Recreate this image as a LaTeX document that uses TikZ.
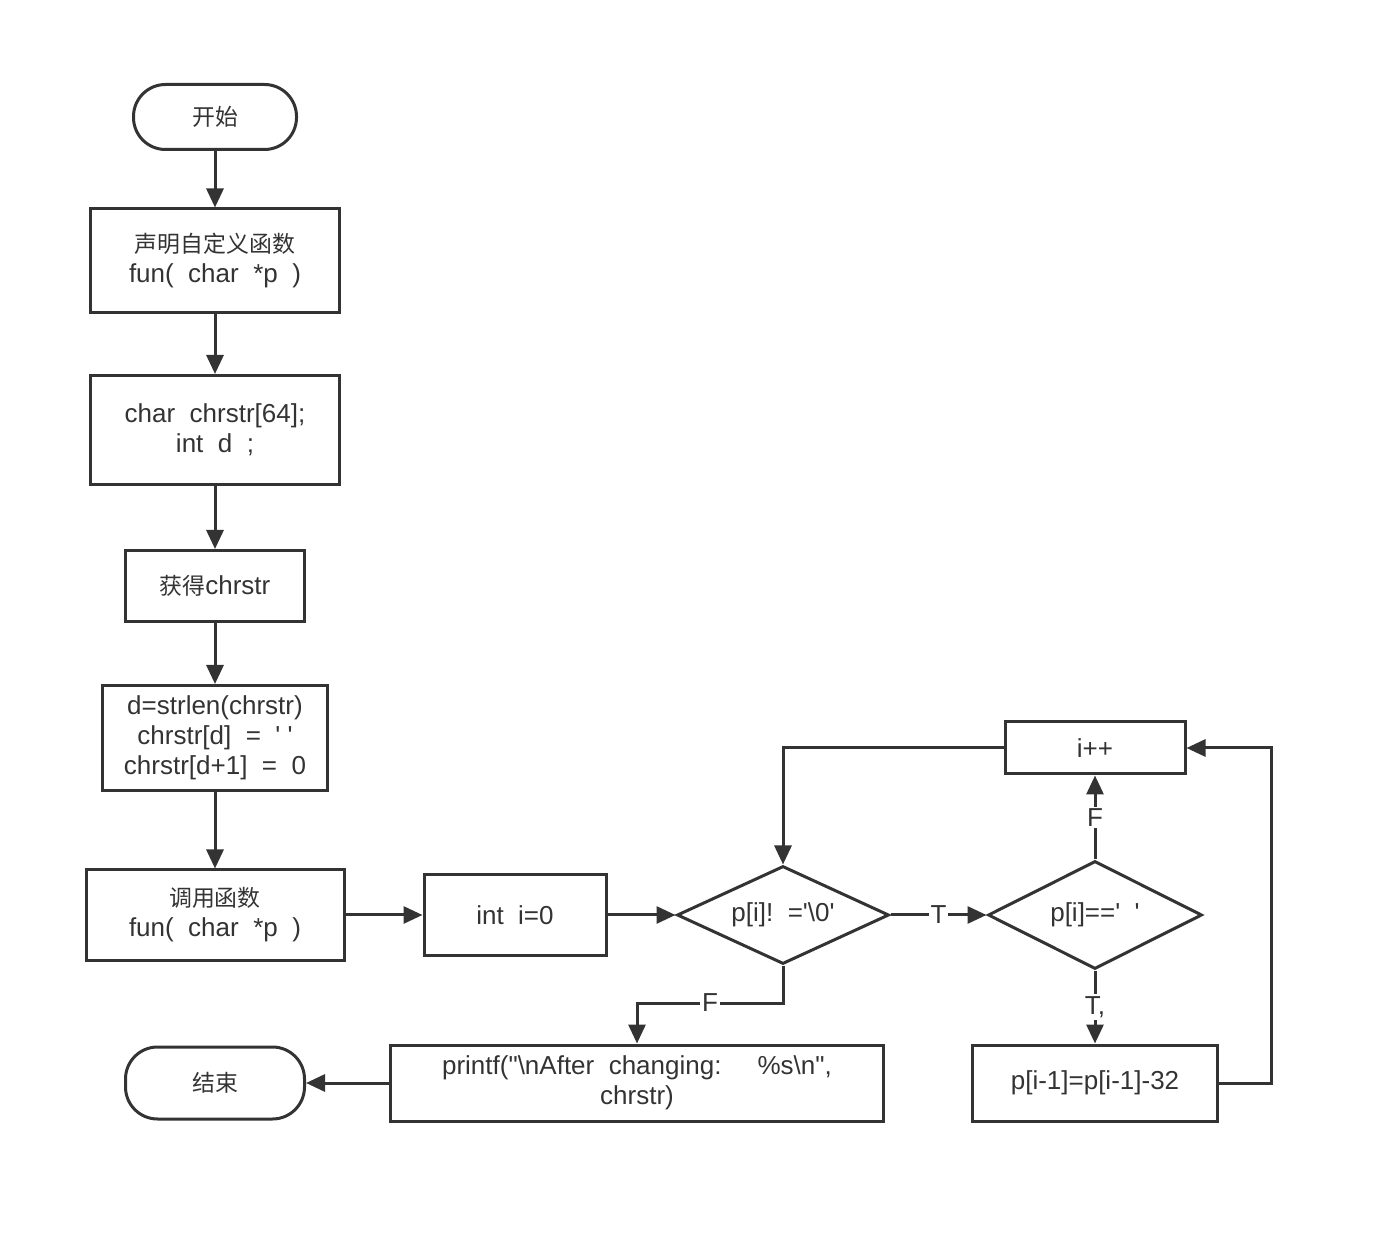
\documentclass[tikz,border=0pt]{standalone}
\usepackage{fontspec}
\setmainfont{Liberation Sans}[Ligatures=TeXOff]
\newfontfamily\cjk{Noto Sans CJK SC}[Scale=0.88]
\usetikzlibrary{shapes.geometric,arrows.meta}
\definecolor{ink}{HTML}{333333}
\tikzset{
  every node/.style={font=\fontsize{13}{15}\selectfont,text=ink},
  proc/.style={draw=ink,line width=1.5pt,align=center,inner sep=0pt},
  term/.style={proc,rounded corners=16pt},
  test/.style={draw=ink,line width=1.5pt,diamond,inner sep=0pt},
  arr/.style={draw=ink,line width=1.5pt,-{Triangle[length=9.5pt,width=8.5pt]}},
  lbl/.style={fill=white,inner sep=1pt}
}
\begin{document}
\begin{tikzpicture}[x=0.5pt,y=-0.5pt]
  \useasboundingbox (0,0) rectangle (1382,1234);
  \node[term,minimum width=81.5pt,minimum height=32.5pt] (start) at (215,117) {\cjk 开始};
  \node[proc,minimum width=124.5pt,minimum height=52pt] (decl) at (215,261) {\cjk 声明自定义函数\\fun(~~char~~*p~~)};
  \node[proc,minimum width=124.5pt,minimum height=54.5pt] (vars) at (215,430) {char~~chrstr[64];\\int~~d~~;};
  \node[proc,minimum width=89.5pt,minimum height=35.5pt] (input) at (215,586) {{\cjk 获得}chrstr};
  \node[proc,minimum width=112.5pt,minimum height=52.5pt] (pad) at (215,738) {d=strlen(chrstr)\\chrstr[d]~~=~~'~'\\chrstr[d+1]~~=~~0};
  \node[proc,minimum width=129pt,minimum height=45pt] (call) at (215,915) {\cjk 调用函数\\fun(~~char~~*p~~)};
  \node[proc,minimum width=91pt,minimum height=40pt] (init) at (515,915) {int~~i=0};
  \node[test,minimum width=106pt,minimum height=49pt] (notend) at (783,915) {\makebox[0pt]{p[i]!~~='\textbackslash 0'}};
  \node[test,minimum width=107pt,minimum height=54pt] (isspace) at (1095,915) {\makebox[0pt]{p[i]=='~~'}};
  \node[proc,minimum width=90pt,minimum height=26pt] (inc) at (1095,748) {i++};
  \node[proc,minimum width=122.5pt,minimum height=38pt] (upper) at (1095,1083) {p[i-1]=p[i-1]-32};
  \node[proc,minimum width=246.5pt,minimum height=38pt] (print) at (637,1083) {printf("\textbackslash nAfter~~changing:~~~~~\%s\textbackslash n",\\chrstr)};
  \node[term,minimum width=89.5pt,minimum height=36pt] (stop) at (215,1083) {\cjk 结束};
  \coordinate (fork) at (783,1003);

  \draw[arr] (start.south) -- (decl.north);
  \draw[arr] (decl.south) -- (vars.north);
  \draw[arr] (vars.south) -- (input.north);
  \draw[arr] (input.south) -- (pad.north);
  \draw[arr] (pad.south) -- (call.north);
  \draw[arr] (call.east) -- (init.west);
  \draw[arr] (init.east) -- (notend.west);
  \draw[arr] (notend.east) -- node[lbl] {T} (isspace.west);
  \draw[arr] (isspace.south) -- node[lbl] {T,} (upper.north);
  \draw[arr] (isspace.north) -- node[lbl] {F} (inc.south);
  \draw[arr] (inc.west) -| (notend.north);
  \draw[arr] (upper.east) -- ++(52,0) |- (inc.east);
  \draw[arr] (notend.south) -- (fork) -- node[lbl] {F} (fork -| print.north) -- (print.north);
  \draw[arr] (print.west) -- (stop.east);
\end{tikzpicture}
\end{document}
